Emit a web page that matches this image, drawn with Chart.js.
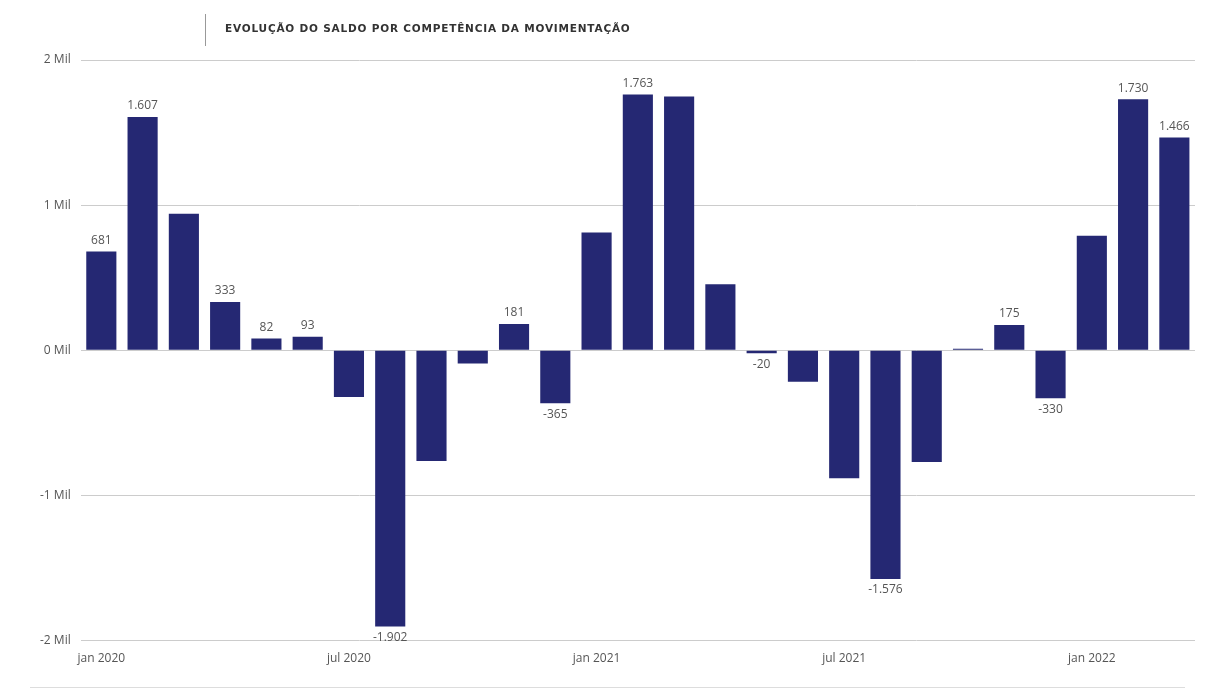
<!DOCTYPE html>
<html>
<head>
<meta charset="utf-8">
<script src="https://cdn.jsdelivr.net/npm/chart.js@4"></script>
<style>
  body { margin: 0; background: #fff; font-family: "Open Sans", sans-serif; }
  #wrap { position: relative; width: 1205px; height: 689px; }
  #title { position: absolute; left: 205px; top: 14px; height: 32px; border-left: 1px solid #999;
    padding-left: 19px; font-family: "DejaVu Sans", sans-serif; font-weight: bold; font-size: 10.5px;
    letter-spacing: 0.8px; color: #333; line-height: 28px; }
  #base { position: absolute; left: 30px; right: 20px; top: 687px; border-top: 1px solid #ddd; }
</style>
</head>
<body>
<div id="wrap">
  <div id="title">EVOLUÇÃO DO SALDO POR COMPETÊNCIA DA MOVIMENTAÇÃO</div>
  <canvas id="chart" width="1205" height="689"></canvas>
  <div id="base"></div>
</div>
<script>
// Meses de jan 2020 a mar 2022
const meses = ['jan 2020','fev 2020','mar 2020','abr 2020','mai 2020','jun 2020','jul 2020','ago 2020','set 2020','out 2020','nov 2020','dez 2020',
  'jan 2021','fev 2021','mar 2021','abr 2021','mai 2021','jun 2021','jul 2021','ago 2021','set 2021','out 2021','nov 2021','dez 2021',
  'jan 2022','fev 2022','mar 2022'];
const saldo = [681, 1607, 940, 333, 82, 93, -322, -1902, -762, -91, 181, -365,
  811, 1763, 1748, 455, -20, -217, -881, -1576, -769, 10, 175, -330,
  790, 1730, 1466];
// quais barras mostram o rótulo
const comRotulo = [1,1,0,1,1,1,0,1,0,0,1,1, 0,1,0,0,1,0,0,1,0,0,1,1, 0,1,1];

const fmt = v => v.toLocaleString('pt-BR');

const rotulos = {
  id: 'rotulos',
  afterDatasetsDraw(chart) {
    const ctx = chart.ctx;
    const meta = chart.getDatasetMeta(0);
    ctx.save();
    ctx.font = '12px "Open Sans", sans-serif';
    ctx.fillStyle = '#555';
    ctx.textAlign = 'center';
    meta.data.forEach((bar, i) => {
      if (!comRotulo[i]) return;
      const v = saldo[i];
      if (v >= 0) {
        ctx.textBaseline = 'bottom';
        ctx.fillText(fmt(v), bar.x, bar.y - 5);
      } else {
        ctx.textBaseline = 'top';
        ctx.fillText(fmt(v), bar.x, bar.y + 5);
      }
    });
    ctx.restore();
  }
};

new Chart(document.getElementById('chart').getContext('2d'), {
  type: 'bar',
  data: {
    labels: meses,
    datasets: [{ data: saldo, backgroundColor: '#252873', barPercentage: 0.73, categoryPercentage: 1 }]
  },
  options: {
    responsive: false,
    animation: false,
    layout: { padding: { left: 30, right: 10, top: 60, bottom: 20 } },
    plugins: { legend: { display: false }, tooltip: { enabled: false } },
    scales: {
      x: {
        grid: { display: false },
        border: { display: false },
        ticks: {
          autoSkip: false, maxRotation: 0, color: '#555', font: { size: 12, family: 'Open Sans' },
          callback: function(v, i) { return i % 6 === 0 ? meses[i] : ''; }
        }
      },
      y: {
        min: -2000, max: 2000,
        border: { display: false },
        grid: { color: '#ccc', borderDash: [1, 3], drawTicks: false },
        ticks: {
          stepSize: 1000, padding: 10, color: '#555', font: { size: 12, family: 'Open Sans' },
          callback: v => (v / 1000) + ' Mil'
        }
      }
    }
  },
  plugins: [rotulos]
});
</script>
</body>
</html>
